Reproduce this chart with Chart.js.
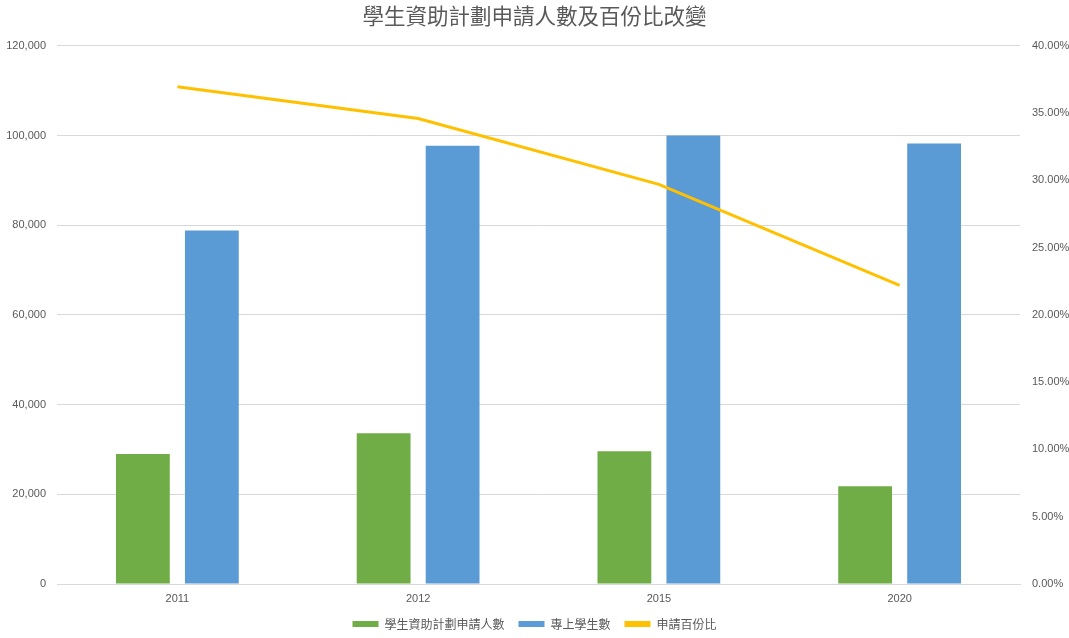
<!DOCTYPE html>
<html>
<head>
<meta charset="utf-8">
<script src="https://cdn.jsdelivr.net/npm/chart.js@4"></script>
<style>
  html, body { margin: 0; padding: 0; background: #fff; }
  #wrap { width: 1069px; height: 638px; }
</style>
</head>
<body>
<div id="wrap"><canvas id="chart"></canvas></div>
<script>
"use strict"

// data
const years = ["2011", "2012", "2015", "2020"]
const applicants = [29000, 33600, 29600, 21800]   // 學生資助計劃申請人數
const students = [78800, 97700, 100000, 98200]    // 專上學生數
const ratio = [36.95, 34.6, 29.7, 22.2]           // 申請百份比 (%)

const grey = "#595959"
const latin = "'Liberation Sans', 'Noto Sans CJK TC', sans-serif"
const cjk = "'Noto Sans CJK TC', sans-serif"

new Chart(document.getElementById("chart"), {
    type: "bar",
    data: {
        labels: years,
        datasets: [
            {
                label: "學生資助計劃申請人數",
                data: applicants,
                backgroundColor: "#70AD47",
                yAxisID: "y",
                order: 2
            },
            {
                label: "專上學生數",
                data: students,
                backgroundColor: "#5B9BD5",
                yAxisID: "y",
                order: 2
            },
            {
                type: "line",
                label: "申請百份比",
                data: ratio,
                borderColor: "#FFC000",
                backgroundColor: "#FFC000",
                borderWidth: 3,
                pointRadius: 0,
                tension: 0,
                yAxisID: "y1",
                order: 1
            }
        ]
    },
    options: {
        responsive: true,
        maintainAspectRatio: false,
        animation: false,
        layout: { padding: { left: 0, right: 0, top: 0, bottom: -2 } },
        datasets: {
            bar: { categoryPercentage: 0.573, barPercentage: 0.78 }
        },
        plugins: {
            title: {
                display: true,
                text: "學生資助計劃申請人數及百份比改變",
                color: grey,
                font: { family: cjk, size: 21.5, weight: "normal" },
                padding: { top: 3, bottom: 17 }
            },
            legend: {
                position: "bottom",
                labels: {
                    color: grey,
                    font: { family: cjk, size: 12 },
                    boxWidth: 26,
                    boxHeight: 6,
                    padding: 14,
                    sort: function (a, b) { return a.datasetIndex - b.datasetIndex },
                    generateLabels: function (chart) {
                        let items = Chart.defaults.plugins.legend.labels.generateLabels(chart)
                        items.forEach(function (it) { it.lineWidth = 0 })
                        return items
                    }
                }
            },
            tooltip: { enabled: false }
        },
        scales: {
            x: {
                grid: { display: false, drawTicks: false },
                border: { color: "#D9D9D9" },
                ticks: { color: grey, font: { family: latin, size: 11 }, padding: 8 },
                afterFit: function (s) { s.height = 20 }
            },
            y: {
                position: "left",
                min: 0,
                max: 120000,
                grid: { color: "#D9D9D9", drawTicks: false },
                border: { display: false },
                ticks: {
                    stepSize: 20000,
                    color: grey,
                    font: { family: latin, size: 11 },
                    padding: 11,
                    callback: function (v) { return v.toLocaleString("en-US") }
                },
                afterFit: function (s) { s.width = 57 }
            },
            y1: {
                position: "right",
                min: 0,
                max: 40,
                grid: { display: false, drawTicks: false },
                border: { display: false },
                ticks: {
                    stepSize: 5,
                    color: grey,
                    font: { family: latin, size: 11 },
                    padding: 12,
                    callback: function (v) { return v.toFixed(2) + "%" }
                },
                afterFit: function (s) { s.width = 49 }
            }
        }
    }
})
</script>
</body>
</html>
